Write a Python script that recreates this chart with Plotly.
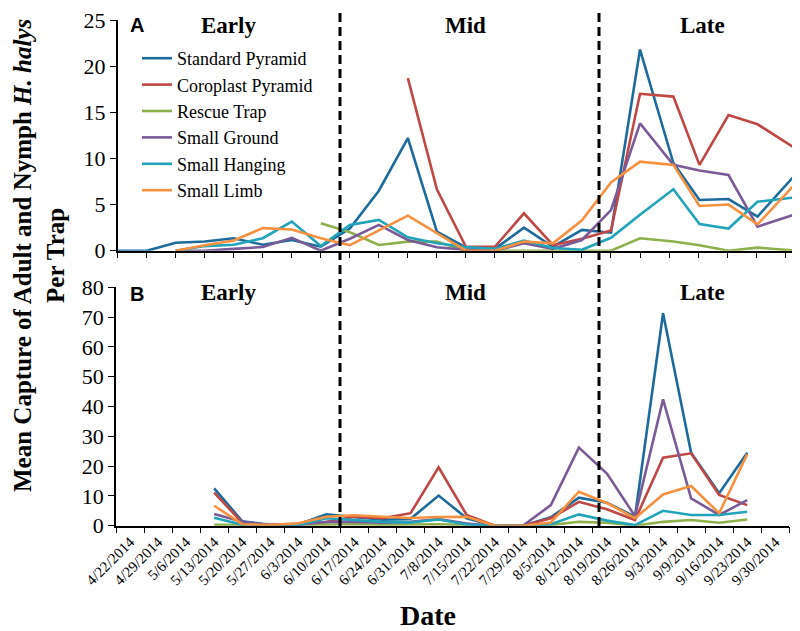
import plotly.graph_objects as go

# ---------------- data ----------------
dates = ["4/22/2014", "4/29/2014", "5/6/2014", "5/13/2014", "5/20/2014", "5/27/2014",
         "6/3/2014", "6/10/2014", "6/17/2014", "6/24/2014", "6/31/2014", "7/8/2014",
         "7/15/2014", "7/22/2014", "7/29/2014", "8/5/2014", "8/12/2014", "8/19/2014",
         "8/26/2014", "9/3/2014", "9/9/2014", "9/16/2014", "9/23/2014", "9/30/2014"]

# Panel A sampling positions (weeks from first sample)
weeks_a = [0, 1, 2, 3, 4, 5, 6, 7, 8, 9, 10, 11, 12, 13, 14, 15, 16, 17, 18,
           19.15, 20.05, 21.05, 22.05, 23.4]

series_names = ["Standard Pyramid", "Coroplast Pyramid", "Rescue Trap",
                "Small Ground", "Small Hanging", "Small Limb"]
colors = ["#1C6B9C", "#BF4744", "#8DB04C", "#7A5A97", "#21A3BA", "#F6913F"]

N = None
std_a = [0, 0, 0.87, 1.0, 1.34, 0.65, 1.16, 0.43, 2.4, 6.5, 12.2, 2.06, 0.37, 0.2, 2.5, 0.43,
         2.25, 1.95, 21.8, 9.5, 5.5, 5.6, 3.7, 8.4]
cor_a = [N, N, N, N, N, N, N, N, N, N, 18.7, 6.65, 0.43, 0.43, 4.05, 0.6,
         1.3, 2.2, 17.0, 16.7, 9.3, 14.7, 13.7, 11.0]
res_a = [N, N, N, N, N, N, N, 2.97, 2.0, 0.62, 0.98, 1.0, 0, 0, 0, 0,
         0, 0, 1.34, 1.0, 0.6, 0, 0.33, 0]
gro_a = [N, N, 0, 0, 0.2, 0.4, 1.4, 0, 1.3, 2.8, 1.16, 0.37, 0.1, 0, 0.8, 0.2,
         1.16, 4.4, 13.8, 9.3, 8.7, 8.2, 2.6, 4.0]
han_a = [N, N, 0, 0.5, 0.65, 1.35, 3.15, 0.5, 2.8, 3.33, 1.45, 0.8, 0.4, 0.2, 1.1, 0.3,
         0.1, 1.4, 3.9, 6.65, 2.9, 2.4, 5.3, 5.8]
lim_a = [N, N, 0, 0.6, 1.1, 2.45, 2.3, 1.35, 0.6, 2.2, 3.8, 1.9, 0, 0, 1.0, 0.8,
         3.3, 7.4, 9.65, 9.3, 4.85, 5.0, 2.85, 7.4]

std_b = [N, N, N, 12.5, 1.5, 0.3, 0.5, 3.8, 3.0, 2.0, 2.3, 10.1, 2.5, 0, 0, 2.8,
         9.4, 7.7, 3.0, 71.3, 24.5, 10.9, 24.5, N]
cor_b = [N, N, N, 11.1, 1.0, 0.3, 0.6, 1.2, 3.0, 2.5, 4.2, 19.6, 3.6, 0, 0, 2.5,
         8.0, 5.5, 1.9, 22.8, 24.3, 10.3, 6.9, N]
res_b = [N, N, N, 0.3, 0.1, 0.1, 0.2, 0.4, 0.5, 0.3, 0.3, 0.5, 0.2, 0, 0, 0.2,
         1.3, 1.0, 0, 1.3, 1.9, 1.0, 2.1, N]
gro_b = [N, N, N, 3.9, 1.3, 0.2, 0.3, 1.3, 1.3, 1.0, 1.3, 2.2, 0.7, 0, 0, 6.9,
         26.2, 17.5, 3.2, 42.4, 9.2, 3.6, 8.6, N]
han_b = [N, N, N, 2.7, 0.3, 0.1, 0.2, 2.5, 2.0, 1.3, 1.1, 2.1, 0.4, 0, 0, 0.5,
         3.8, 1.7, 0.2, 5.0, 3.6, 3.6, 4.7, N]
lim_b = [N, N, N, 6.7, 0.5, 0.2, 0.8, 3.0, 3.5, 3.0, 2.6, 2.9, 3.0, 0, 0, 1.1,
         11.4, 7.6, 2.5, 10.5, 13.3, 4.2, 24.0, N]

panel_a = [std_a, cor_a, res_a, gro_a, han_a, lim_a]
panel_b = [std_b, cor_b, res_b, gro_b, han_b, lim_b]

y_ticks_a = [0, 5, 10, 15, 20, 25]
y_ticks_b = [0, 10, 20, 30, 40, 50, 60, 70, 80]

# ---------------- figure ----------------
W, H = 800, 631
OFF = 8  # page body margin offset
SERIF = "Liberation Serif, Times New Roman, serif"

fig = go.Figure()
for name, col, ya in zip(series_names, colors, panel_a):
    fig.add_trace(go.Scatter(x=weeks_a, y=ya, name=name, mode="lines",
                             line=dict(color=col, width=2.6), xaxis="x", yaxis="y",
                             connectgaps=False))
for name, col, yb in zip(series_names, colors, panel_b):
    fig.add_trace(go.Scatter(x=dates, y=yb, name=name, mode="lines", showlegend=False,
                             line=dict(color=col, width=2.6), xaxis="x2", yaxis="y2"))

def px(x):
    return (x - OFF) / W

def py(y):
    return 1 - (y - OFF) / H

axis_common = dict(showline=True, linecolor="black", linewidth=1.5, ticks="outside",
                   ticklen=6, tickcolor="black", tickwidth=1.3, showgrid=False,
                   zeroline=False, automargin=False, ticklabeloverflow="allow",
                   tickfont=dict(family=SERIF, size=22, color="black"))

fig.update_layout(
    width=W, height=H, autosize=False,
    margin=dict(l=0, r=0, t=0, b=0, pad=0),
    paper_bgcolor="white", plot_bgcolor="white",
    xaxis=dict(domain=[px(117.7), px(796.7)], range=[0, 23.4], tick0=0, dtick=1,
               showticklabels=False, anchor="y", **axis_common),
    yaxis=dict(domain=[py(250.7), py(20)], range=[0, 25], tickvals=y_ticks_a,
               anchor="x", **axis_common),
    xaxis2=dict(domain=[px(116), px(789.3)], type="category", categoryorder="array",
                categoryarray=dates, range=[-0.5, 23.5], tickson="boundaries",
                tickangle=-45, anchor="y2",
                **{**axis_common, "tickfont": dict(family=SERIF, size=15, color="black")}),
    yaxis2=dict(domain=[py(525.7), py(287.3)], range=[0, 80], tickvals=y_ticks_b,
                anchor="x2", **axis_common),
    legend=dict(x=px(137), y=py(40), xanchor="left", yanchor="top",
                bgcolor="rgba(0,0,0,0)", font=dict(family=SERIF, size=18, color="black"),
                tracegroupgap=0, itemwidth=30),
    showlegend=True,
)

# dashed period separators
for xs in [340, 599]:
    fig.add_shape(type="line", xref="paper", yref="paper", x0=px(xs), x1=px(xs),
                  y0=py(526), y1=py(0), line=dict(color="black", width=3, dash="9px,5px"))

ann = []
ann.append(dict(text="<b>A</b>", x=px(137), y=py(25),
                font=dict(family="Liberation Sans, Arial", size=20, color="black")))
ann.append(dict(text="<b>B</b>", x=px(137), y=py(294),
                font=dict(family="Liberation Sans, Arial", size=20, color="black")))
for label, xc in [("Early", 228), ("Mid", 465), ("Late", 702)]:
    ann.append(dict(text="<b>%s</b>" % label, x=px(xc), y=py(25),
                    font=dict(family=SERIF, size=23, color="black")))
    ann.append(dict(text="<b>%s</b>" % label, x=px(xc), y=py(292),
                    font=dict(family=SERIF, size=23, color="black")))
ann.append(dict(text="<b>Date</b>", x=px(428), y=py(615),
                font=dict(family=SERIF, size=28, color="black")))
ann.append(dict(text="<b>Mean Capture of Adult and Nymph <i>H. halys</i></b><br><b>Per Trap</b>",
                x=px(39), y=py(256), textangle=-90,
                font=dict(family=SERIF, size=25, color="black")))
for a in ann:
    a.update(xref="paper", yref="paper", showarrow=False, xanchor="center", yanchor="middle")
fig.update_layout(annotations=ann)

fig.write_html("out.html")
